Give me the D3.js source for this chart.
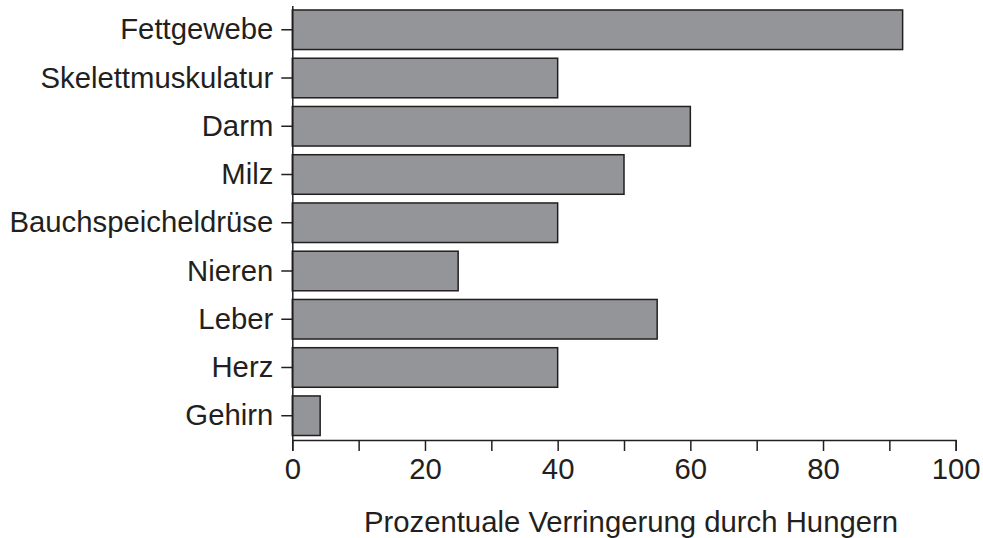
<!DOCTYPE html>
<html>
<head>
<meta charset="utf-8">
<script src="https://cdn.jsdelivr.net/npm/d3@7"></script>
<style>
  html, body { margin: 0; padding: 0; background: #fff; }
  svg { display: block; }
  text { font-family: "Liberation Sans", Arial, Helvetica, sans-serif; fill: #231f20; }
</style>
</head>
<body>
<svg id="chart" width="983" height="538"></svg>
<script>
const categories = ["Fettgewebe", "Skelettmuskulatur", "Darm", "Milz", "Bauchspeicheldrüse", "Nieren", "Leber", "Herz", "Gehirn"];
const values = [92, 40, 60, 50, 40, 25, 55, 40, 4.2];
const xTicks = [0, 10, 20, 30, 40, 50, 60, 70, 80, 90, 100];
const xTickLabels = ["0", "", "20", "", "40", "", "60", "", "80", "", "100"];
const xTitle = "Prozentuale Verringerung durch Hungern";

const svg = d3.select("#chart");
const ink = "#231f20";
const fontSize = 29.3;

const x = d3.scaleLinear().domain([0, 100]).range([292.3, 955.7]);
const y = d3.scaleBand().domain(categories).range([5.5, 440]).paddingInner(0.18).paddingOuter(0.093);

// bars
svg.append("g").selectAll("rect")
  .data(categories)
  .join("rect")
  .attr("x", x(0))
  .attr("y", d => y(d))
  .attr("width", (d, i) => x(values[i]) - x(0))
  .attr("height", y.bandwidth())
  .attr("fill", "#939598")
  .attr("stroke", ink)
  .attr("stroke-width", 1.5);

// y axis
const yAxis = d3.axisLeft(y).tickSize(11).tickSizeOuter(0).tickPadding(8);
const gy = svg.append("g").attr("transform", `translate(${x(0)},0)`).call(yAxis);
gy.selectAll(".domain").attr("stroke", ink).attr("stroke-width", 1.5);
gy.selectAll(".tick line").attr("stroke", ink).attr("stroke-width", 1.5);
gy.selectAll(".tick text").attr("font-size", fontSize).attr("dy", "0.33em")
  .style("font-family", "'Liberation Sans', Arial, sans-serif").attr("fill", ink);

// x axis
const xAxis = d3.axisBottom(x).tickValues(xTicks).tickFormat((d, i) => xTickLabels[i])
  .tickSize(11).tickSizeOuter(11).tickPadding(8);
const gx = svg.append("g").attr("transform", "translate(0,440)").call(xAxis);
gx.selectAll(".domain").attr("stroke", ink).attr("stroke-width", 1.5);
gx.selectAll(".tick line").attr("stroke", ink).attr("stroke-width", 1.5);
gx.selectAll(".tick text").attr("font-size", fontSize).attr("dy", "0.71em").attr("y", 18.5)
  .style("font-family", "'Liberation Sans', Arial, sans-serif").attr("fill", ink);

// x title
svg.append("text")
  .attr("x", 631)
  .attr("y", 532)
  .attr("text-anchor", "middle")
  .attr("font-size", fontSize)
  .text(xTitle);
</script>
</body>
</html>
